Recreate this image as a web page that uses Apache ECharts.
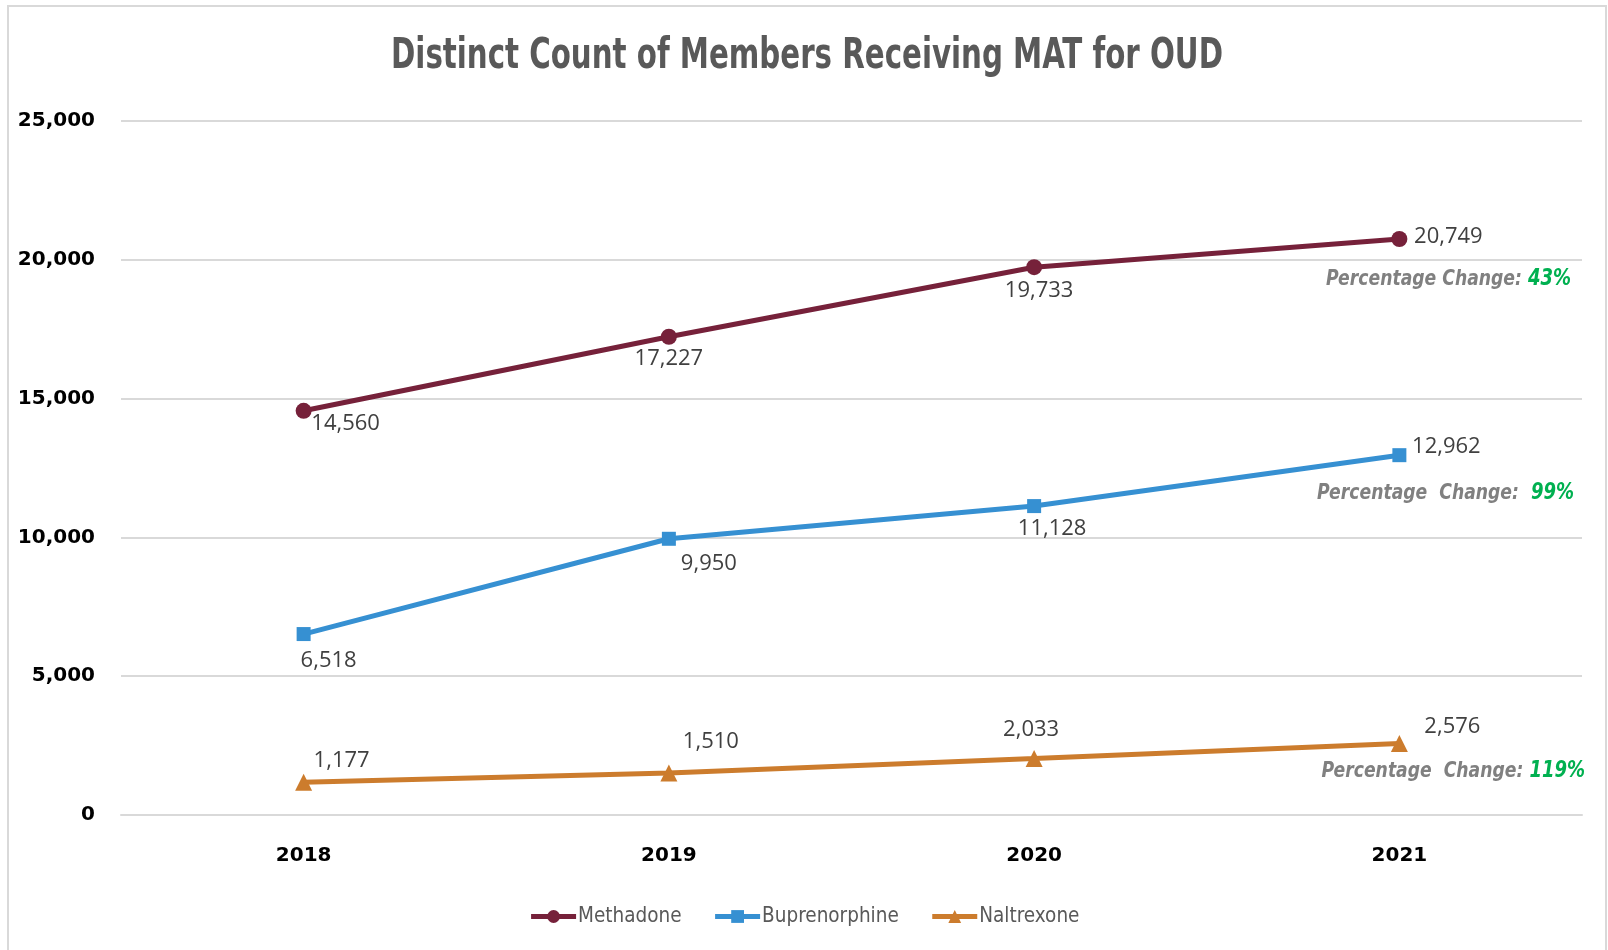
<!DOCTYPE html>
<html>
<head>
<meta charset="utf-8">
<title>Distinct Count of Members Receiving MAT for OUD</title>
<script src="https://cdn.jsdelivr.net/npm/echarts@6/dist/echarts.min.js"></script>
<style>
  html, body { margin: 0; padding: 0; background: #fff; }
  #chart { width: 1608px; height: 950px; }
</style>
</head>
<body>
<div id="chart"></div>
<script>
// data
const years = ['2018', '2019', '2020', '2021'];
const methadone = [14560, 17227, 19733, 20749];
const buprenorphine = [6518, 9950, 11128, 12962];
const naltrexone = [1177, 1510, 2033, 2576];
const pctChange = ['43%', '99%', '119%'];
const yTicks = [0, 5000, 10000, 15000, 20000, 25000];

// label offsets (px) per point, relative to the marker centre
const methadoneOffsets = [[42, 13], [0, 22], [5, 24], [49, -2]];
const buprenorphineOffsets = [[25, 27], [40, 25], [18, 23], [47, -8]];
const naltrexoneOffsets = [[38, -22], [42, -31], [-3, -29], [53, -17]];

const narrow = '"Liberation Sans Narrow", "DejaVu Sans Condensed", sans-serif';
const fmt = v => Number(v).toLocaleString('en-US');

function buildData(values, offsets) {
    return values.map((v, i) => ({
        value: v,
        label: { offset: offsets[i] }
    }));
}

function lineSeries(name, values, offsets, color, symbol, size) {
    return {
        name: name,
        type: 'line',
        data: buildData(values, offsets),
        symbol: symbol,
        symbolSize: size,
        lineStyle: { color: color, width: 5 },
        itemStyle: { color: color },
        label: {
            show: true,
            position: 'inside',
            formatter: p => fmt(p.value),
            fontFamily: '"Open Sans", sans-serif',
            fontSize: 22,
            color: '#404040'
        },
        emphasis: { disabled: true },
        animation: false
    };
}

// "Percentage Change" notes, squeezed horizontally like the original condensed face
function pctText(right, y, lead, pct) {
    return {
        type: 'text',
        x: right,
        y: y,
        scaleX: 0.87,
        style: {
            text: '{a|' + lead + '}{b|' + pct + '}',
            align: 'right',
            verticalAlign: 'middle',
            rich: {
                a: { fontFamily: narrow, fontSize: 22, fontStyle: 'italic', fontWeight: 'bold', fill: '#808080' },
                b: { fontFamily: narrow, fontSize: 23, fontStyle: 'italic', fontWeight: 'bold', fill: '#00b050' }
            }
        },
        silent: true
    };
}

const chart = echarts.init(document.getElementById('chart'));
chart.setOption({
    backgroundColor: '#fff',
    animation: false,
    legend: {
        bottom: 18,
        left: 'center',
        itemWidth: 45,
        itemHeight: 16,
        itemGap: 31,
        lineStyle: { width: 5 },
        textStyle: { fontFamily: narrow, fontSize: 20.5, color: '#595959', padding: [0, 0, 0, -3] },
        data: ['Methadone', 'Buprenorphine', 'Naltrexone']
    },
    grid: { left: 121, right: 26, top: 121, bottom: 135, containLabel: false, outerBoundsMode: 'none' },
    xAxis: {
        type: 'category',
        data: years,
        boundaryGap: true,
        axisLine: { lineStyle: { color: '#d9d9d9', width: 2 } },
        axisTick: { show: false },
        axisLabel: {
            margin: 31,
            fontFamily: '"DejaVu Sans", sans-serif',
            fontWeight: 'bold',
            fontSize: 20,
            color: '#000'
        }
    },
    yAxis: {
        type: 'value',
        min: yTicks[0],
        max: yTicks[yTicks.length - 1],
        interval: yTicks[1] - yTicks[0],
        axisLine: { show: false },
        axisTick: { show: false },
        splitLine: { lineStyle: { color: '#d9d9d9', width: 2 } },
        axisLabel: {
            margin: 26,
            formatter: v => fmt(v),
            fontFamily: '"DejaVu Sans", sans-serif',
            fontWeight: 'bold',
            fontSize: 20,
            color: '#000'
        }
    },
    series: [
        lineSeries('Methadone', methadone, methadoneOffsets, '#76213a', 'circle', 16),
        lineSeries('Buprenorphine', buprenorphine, buprenorphineOffsets, '#3690d2', 'rect', 14),
        lineSeries('Naltrexone', naltrexone, naltrexoneOffsets, '#cc7c2d', 'triangle', 17)
    ],
    graphic: [
        {
            type: 'rect',
            shape: { x: 8, y: 6, width: 1598, height: 960 },
            style: { fill: 'none', stroke: '#d9d9d9', lineWidth: 2 },
            silent: true
        },
        {
            type: 'text',
            x: 807,
            y: 57,
            scaleX: 0.775,
            style: {
                text: 'Distinct Count of Members Receiving MAT for OUD',
                align: 'center',
                verticalAlign: 'middle',
                fontFamily: narrow,
                fontSize: 42,
                fontWeight: 'bold',
                fill: '#595959'
            },
            silent: true
        },
        pctText(1571, 279, 'Percentage Change: ', pctChange[0]),
        pctText(1574, 493, 'Percentage  Change:  ', pctChange[1]),
        pctText(1585, 771, 'Percentage  Change: ', pctChange[2])
    ]
});
</script>
</body>
</html>
